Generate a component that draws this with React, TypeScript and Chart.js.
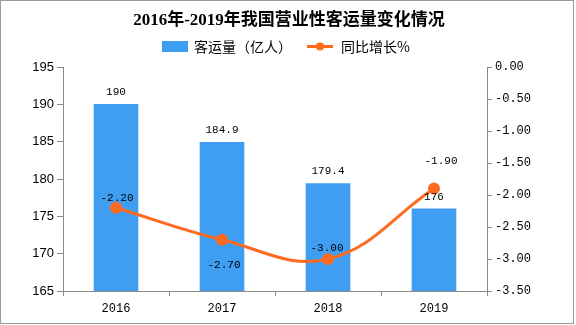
import React, { useEffect, useRef } from "react";
import { Chart, registerables } from "chart.js";

Chart.register(...registerables);

const categories = ["2016", "2017", "2018", "2019"];
const passengerVolume = [190, 184.9, 179.4, 176];
const yoyGrowth = [-2.2, -2.7, -3.0, -1.9];
const barLabels = ["190", "184.9", "179.4", "176"];
const lineLabels = ["-2.20", "-2.70", "-3.00", "-1.90"];

const TITLE = "2016年-2019年我国营业性客运量变化情况";
const LEGEND_BAR = "客运量（亿人）";
const LEGEND_LINE = "同比增长%";

const BAR_COLOR = "#409EF2";
const LINE_COLOR = "#FF6A21";
const AXIS_COLOR = "#8a8a8a";
const MONO = "'Liberation Mono', 'DejaVu Sans Mono', monospace";
const CJK = "'Noto Sans CJK SC', sans-serif";

// label offsets (px) relative to the line points
const lineLabelDy = [-10, 25, -11, -28];
const lineLabelDx = [1, 2, -1, 7];

const decorPlugin = {
  id: "decor",
  afterDraw(chart: any) {
    const ctx = chart.ctx;
    ctx.save();
    // frame
    ctx.strokeStyle = "#9a9a9a";
    ctx.lineWidth = 1;
    ctx.strokeRect(0.5, 0.5, 573, 323);
    // title
    ctx.fillStyle = "#000";
    ctx.font = `bold 17px 'Liberation Serif', 'Noto Sans CJK SC', serif`;
    ctx.textAlign = "center";
    ctx.textBaseline = "middle";
    ctx.fillText(TITLE, 289, 21);
    // legend
    ctx.fillStyle = BAR_COLOR;
    ctx.fillRect(162, 41, 26, 11);
    ctx.fillStyle = "#000";
    ctx.font = `14px ${CJK}`;
    ctx.textAlign = "left";
    ctx.fillText(LEGEND_BAR, 194, 47);
    ctx.strokeStyle = LINE_COLOR;
    ctx.lineWidth = 3;
    ctx.beginPath();
    ctx.moveTo(307, 46.5);
    ctx.lineTo(333, 46.5);
    ctx.stroke();
    ctx.fillStyle = LINE_COLOR;
    ctx.beginPath();
    ctx.arc(320, 46.5, 4, 0, Math.PI * 2);
    ctx.fill();
    ctx.fillStyle = "#000";
    ctx.fillText(LEGEND_LINE, 341, 47);
    ctx.restore();
  },
  afterDatasetsDraw(chart: any) {
    const ctx = chart.ctx;
    ctx.save();
    ctx.fillStyle = "#000";
    ctx.font = `11px ${MONO}`;
    ctx.textAlign = "center";
    ctx.textBaseline = "middle";
    const barMeta = chart.getDatasetMeta(0);
    barMeta.data.forEach((el: any, i: number) => {
      ctx.fillText(barLabels[i], el.x, el.y - 12);
    });
    const lineMeta = chart.getDatasetMeta(1);
    lineMeta.data.forEach((el: any, i: number) => {
      ctx.fillText(lineLabels[i], el.x + lineLabelDx[i], el.y + lineLabelDy[i]);
    });
    ctx.restore();
  },
};

export default function App() {
  const ref = useRef<HTMLCanvasElement>(null);
  useEffect(() => {
    if (!ref.current) return;
    const chart = new Chart(ref.current, {
      type: "bar",
      data: {
        labels: categories,
        datasets: [
          {
            type: "bar",
            label: LEGEND_BAR,
            data: passengerVolume,
            backgroundColor: BAR_COLOR,
            yAxisID: "y",
            barThickness: 44,
            order: 2,
          },
          {
            type: "line",
            label: LEGEND_LINE,
            data: yoyGrowth,
            borderColor: LINE_COLOR,
            backgroundColor: LINE_COLOR,
            borderWidth: 3,
            pointRadius: 4.5,
            pointBackgroundColor: LINE_COLOR,
            pointBorderColor: LINE_COLOR,
            tension: 0.4,
            yAxisID: "y1",
            order: 1,
          } as any,
        ],
      },
      options: {
        animation: false,
        responsive: false,
        events: [],
        layout: { padding: { top: 67, left: 0, right: 0, bottom: 0 } },
        plugins: {
          legend: { display: false },
          title: { display: false },
          tooltip: { enabled: false },
        },
        scales: {
          x: {
            offset: true,
            grid: {
              offset: true,
              drawOnChartArea: false,
              drawTicks: true,
              tickLength: 5,
              color: AXIS_COLOR,
            },
            border: { color: AXIS_COLOR },
            ticks: { color: "#000", font: { family: MONO, size: 12 }, padding: 6 },
            afterFit: (s: any) => {
              s.height = 34;
            },
          },
          y: {
            position: "left",
            min: 165,
            max: 195,
            ticks: {
              stepSize: 5,
              color: "#000",
              font: { family: "'Liberation Sans', Arial, sans-serif", size: 13 },
              padding: 3,
            },
            grid: { drawOnChartArea: false, tickLength: 6, color: AXIS_COLOR },
            border: { color: AXIS_COLOR },
            afterFit: (s: any) => {
              s.width = 63;
            },
          },
          y1: {
            position: "right",
            min: -3.5,
            max: 0,
            ticks: {
              stepSize: 0.5,
              color: "#000",
              font: { family: MONO, size: 12 },
              padding: 3,
              callback: (v: any) => Number(v).toFixed(2),
            },
            grid: { drawOnChartArea: false, tickLength: 5, color: AXIS_COLOR },
            border: { color: AXIS_COLOR },
            afterFit: (s: any) => {
              s.width = 89;
            },
          },
        },
      },
      plugins: [decorPlugin],
    });
    return () => chart.destroy();
  }, []);
  return (
    <div style={{ position: "fixed", left: 0, top: 0, width: 576, height: 325, background: "#fff" }}>
      <canvas ref={ref} width={576} height={325} style={{ width: 576, height: 325 }} />
    </div>
  );
}
